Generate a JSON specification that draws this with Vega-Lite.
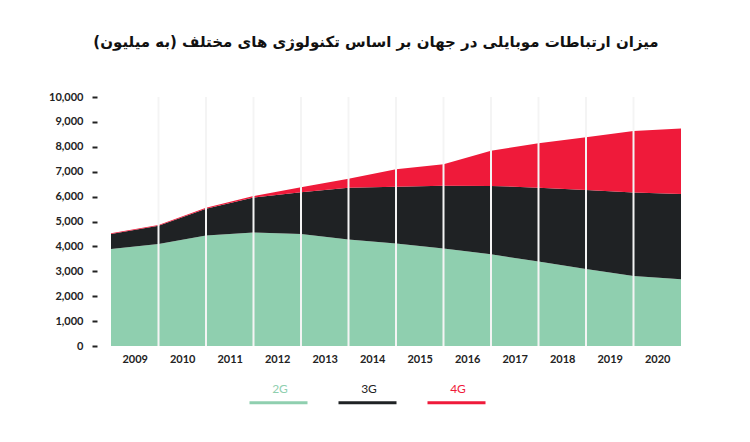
{
  "$schema": "https://vega.github.io/schema/vega-lite/v6.json",
  "description": "stacked area chart - mobile connections by technology",
  "width": 570,
  "height": 249,
  "autosize": {"type": "none"},
  "padding": {"left": 111, "top": 97, "right": 69, "bottom": 96},
  "background": "white",
  "title": {
    "text": "میزان ارتباطات موبایلی در جهان بر اساس تکنولوژی های مختلف (به میلیون)",
    "font": "DejaVu Sans",
    "fontSize": 15,
    "fontWeight": "bold",
    "color": "#111111",
    "anchor": "middle",
    "dx": -20,
    "offset": 41
  },
  "config": {
    "view": {"stroke": null},
    "axis": {
      "labelFont": "Lato",
      "labelFontWeight": "bold",
      "labelFontSize": 11,
      "labelColor": "#222222",
      "domain": false,
      "grid": false,
      "title": null
    }
  },
  "datasets": {
    "series": [
      {"t": 2009, "tech": "2G", "value": 3900},
      {"t": 2009, "tech": "3G", "value": 600},
      {"t": 2009, "tech": "4G", "value": 30},
      {"t": 2010, "tech": "2G", "value": 4100},
      {"t": 2010, "tech": "3G", "value": 730},
      {"t": 2010, "tech": "4G", "value": 30},
      {"t": 2011, "tech": "2G", "value": 4440},
      {"t": 2011, "tech": "3G", "value": 1070},
      {"t": 2011, "tech": "4G", "value": 40},
      {"t": 2012, "tech": "2G", "value": 4560},
      {"t": 2012, "tech": "3G", "value": 1400},
      {"t": 2012, "tech": "4G", "value": 60},
      {"t": 2013, "tech": "2G", "value": 4500},
      {"t": 2013, "tech": "3G", "value": 1670},
      {"t": 2013, "tech": "4G", "value": 210},
      {"t": 2014, "tech": "2G", "value": 4280},
      {"t": 2014, "tech": "3G", "value": 2080},
      {"t": 2014, "tech": "4G", "value": 360},
      {"t": 2015, "tech": "2G", "value": 4120},
      {"t": 2015, "tech": "3G", "value": 2280},
      {"t": 2015, "tech": "4G", "value": 700},
      {"t": 2016, "tech": "2G", "value": 3920},
      {"t": 2016, "tech": "3G", "value": 2520},
      {"t": 2016, "tech": "4G", "value": 860},
      {"t": 2017, "tech": "2G", "value": 3680},
      {"t": 2017, "tech": "3G", "value": 2750},
      {"t": 2017, "tech": "4G", "value": 1410},
      {"t": 2018, "tech": "2G", "value": 3390},
      {"t": 2018, "tech": "3G", "value": 2970},
      {"t": 2018, "tech": "4G", "value": 1780},
      {"t": 2019, "tech": "2G", "value": 3090},
      {"t": 2019, "tech": "3G", "value": 3180},
      {"t": 2019, "tech": "4G", "value": 2110},
      {"t": 2020, "tech": "2G", "value": 2810},
      {"t": 2020, "tech": "3G", "value": 3350},
      {"t": 2020, "tech": "4G", "value": 2470},
      {"t": 2021, "tech": "2G", "value": 2680},
      {"t": 2021, "tech": "3G", "value": 3420},
      {"t": 2021, "tech": "4G", "value": 2630}
    ],
    "bounds": [
      {"t": 2010}, {"t": 2011}, {"t": 2012}, {"t": 2013}, {"t": 2014},
      {"t": 2015}, {"t": 2016}, {"t": 2017}, {"t": 2018}, {"t": 2019}, {"t": 2020}
    ]
  },
  "layer": [
    {
      "data": {"name": "series"},
      "mark": {"type": "area", "interpolate": "linear"},
      "encoding": {
        "x": {
          "field": "t",
          "type": "quantitative",
          "scale": {"domain": [2009, 2021], "nice": false, "zero": false},
          "axis": {
            "values": [2009.5, 2010.5, 2011.5, 2012.5, 2013.5, 2014.5, 2015.5, 2016.5, 2017.5, 2018.5, 2019.5, 2020.5],
            "labelExpr": "floor(datum.value)",
            "ticks": false,
            "labelPadding": 7
          }
        },
        "y": {
          "field": "value",
          "type": "quantitative",
          "stack": "zero",
          "scale": {"domain": [0, 10000], "nice": false},
          "axis": {
            "values": [0, 1000, 2000, 3000, 4000, 5000, 6000, 7000, 8000, 9000, 10000],
            "format": ",d",
            "offset": 14,
            "ticks": true,
            "tickSize": 5,
            "tickWidth": 2,
            "tickColor": "#222222",
            "labelPadding": 9
          }
        },
        "color": {
          "field": "tech",
          "type": "nominal",
          "scale": {"domain": ["2G", "3G", "4G"], "range": ["#8fcfaf", "#1f2224", "#ef1a3a"]},
          "legend": {
            "title": null,
            "orient": "none",
            "legendX": 137,
            "legendY": 275,
            "direction": "horizontal",
            "symbolType": "stroke",
            "symbolSize": 3364,
            "symbolStrokeWidth": 3,
            "labelAlign": "center",
            "labelOffset": -29,
            "labelFont": "Lato",
            "labelFontSize": 12,
            "columnPadding": 18,
            "encode": {
              "labels": {"update": {"fill": {"scale": "color", "field": "value"}, "dy": {"value": -14}}},
              "symbols": {"update": {"stroke": {"scale": "color", "field": "value"}}}
            }
          }
        },
        "order": {"field": "tech"}
      }
    },
    {
      "data": {"name": "bounds"},
      "mark": {"type": "rule", "color": "#f4f4f4", "strokeWidth": 2},
      "encoding": {
        "x": {"field": "t", "type": "quantitative"}
      }
    }
  ]
}
